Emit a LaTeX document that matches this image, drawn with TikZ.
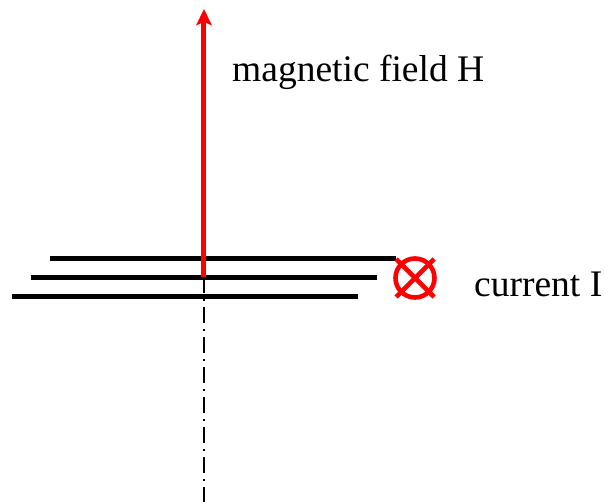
\documentclass[tikz,border=0pt]{standalone}
\usepackage{fontspec}
\setmainfont{Liberation Serif}
\definecolor{myred}{RGB}{255,0,0}
\begin{document}
\begin{tikzpicture}[x=1pt,y=-1pt,
  plate/.style={line width=5pt,black},
  redline/.style={line width=5pt,myred},
  lab/.style={inner sep=0pt,anchor=base west,font=\fontsize{37.5}{40}\selectfont}]
\useasboundingbox (0,0) rectangle (605,502);
\coordinate (axisTop) at (203.5,277);
\coordinate (axisBot) at (203.5,502);
\draw[line width=2pt,dash pattern=on 16pt off 6pt on 2pt off 6pt] (axisTop) -- (axisBot);
\coordinate (a1) at (50,259);\coordinate (a2) at (396,259);
\coordinate (b1) at (31,278);\coordinate (b2) at (377,278);
\coordinate (c1) at (12,297);\coordinate (c2) at (358,297);
\draw[plate] (a1)--(a2);
\draw[plate] (b1)--(b2);
\draw[plate] (c1)--(c2);
\coordinate (fieldBase) at (203.5,277.5);
\coordinate (fieldTip) at (204,9);
\draw[redline] (fieldBase) -- (203.5,20);
\fill[myred] (fieldTip) -- (212,25.5) -- (204,22) -- (196,25.5) -- cycle;
\node[draw=myred,line width=4.6pt,circle,minimum size=39pt,inner sep=0pt,outer sep=0pt] (cur) at (415,278) {};
\draw[redline,line width=4.6pt] (396,259) -- (434,297) (434,259) -- (396,297);
\node[lab] (mf) at (232,82) {magnetic field H};
\node[lab] (ci) at (474,297) {current I};
\end{tikzpicture}
\end{document}
